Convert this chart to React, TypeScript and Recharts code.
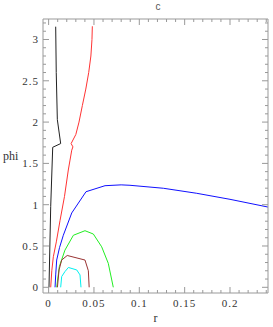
import { LineChart, Line, XAxis, YAxis } from 'recharts';

// contour curves, r vs phi
const blackR = [0.0078, 0.0084, 0.0096, 0.0133, 0.0045, 0.0023, 0.0004];
const blackPhi = [3.155, 2.6, 2.03, 1.74, 1.695, 0.98, 0];

const redR = [0.0482, 0.0478, 0.0466, 0.0442, 0.041, 0.0372, 0.0335, 0.03, 0.0248, 0.0268, 0.0255, 0.0236, 0.0217, 0.0175, 0.0126, 0.0085, 0.0052, 0.0035, 0.0023];
const redPhi = [3.16, 3.0, 2.8, 2.6, 2.4, 2.2, 2.0, 1.85, 1.74, 1.7, 1.66, 1.54, 1.42, 1.1, 0.81, 0.55, 0.37, 0.2, 0];

const blueR = [0.0071, 0.0078, 0.0089, 0.012, 0.0162, 0.0255, 0.0412, 0.0622, 0.08, 0.0897, 0.1265, 0.1633, 0.2, 0.2416, 0.25];
const bluePhi = [0, 0.15, 0.33, 0.48, 0.63, 0.9, 1.157, 1.23, 1.24, 1.235, 1.199, 1.138, 1.065, 0.972, 0.95];

const greenR = [0.0089, 0.0118, 0.018, 0.0273, 0.0401, 0.0493, 0.0585, 0.0658, 0.0713];
const greenPhi = [0, 0.25, 0.45, 0.63, 0.685, 0.645, 0.49, 0.29, 0];

const brownR = [0.0097, 0.0115, 0.0144, 0.0205, 0.0401, 0.0438, 0.0447];
const brownPhi = [0, 0.21, 0.33, 0.385, 0.33, 0.2, 0];

const cyanR = [0.0133, 0.0144, 0.018, 0.0218, 0.031, 0.0346, 0.0357];
const cyanPhi = [0, 0.13, 0.19, 0.24, 0.21, 0.15, 0];

const xMajor = [0, 0.05, 0.1, 0.15, 0.2];
const yMajor = [0, 0.5, 1, 1.5, 2, 2.5, 3];
const xTicks = [0, 0.01, 0.02, 0.03, 0.04, 0.05, 0.06, 0.07, 0.08, 0.09, 0.1, 0.11, 0.12, 0.13, 0.14, 0.15, 0.16, 0.17, 0.18, 0.19, 0.2, 0.21, 0.22, 0.23, 0.24];
const yTicks = [0, 0.1, 0.2, 0.3, 0.4, 0.5, 0.6, 0.7, 0.8, 0.9, 1, 1.1, 1.2, 1.3, 1.4, 1.5, 1.6, 1.7, 1.8, 1.9, 2, 2.1, 2.2, 2.3, 2.4, 2.5, 2.6, 2.7, 2.8, 2.9, 3, 3.1, 3.2];

const series = [
  { name: 'black', color: '#222222', r: blackR, phi: blackPhi },
  { name: 'red', color: '#ff3333', r: redR, phi: redPhi },
  { name: 'blue', color: '#1010ff', r: blueR, phi: bluePhi },
  { name: 'green', color: '#22ee22', r: greenR, phi: greenPhi },
  { name: 'brown', color: '#993333', r: brownR, phi: brownPhi },
  { name: 'cyan', color: '#00f0f0', r: cyanR, phi: cyanPhi },
];

const frame = '#999999';
const labelColor = '#333333';
const serif = '"Liberation Serif", "DejaVu Serif", serif';

const isMajor = (list: number[], v: number) => list.some((m) => Math.abs(m - v) < 1e-6);

function BottomTick({ x, y, payload }: any) {
  const major = isMajor(xMajor, payload.value);
  return (
    <g>
      <line x1={x} y1={y} x2={x} y2={y - (major ? 6 : 3)} stroke={frame} />
      {major && (
        <text x={x} y={y + 14} textAnchor="middle" fontSize={11} letterSpacing={1} fontFamily={serif} fill={labelColor}>
          {payload.value}
        </text>
      )}
    </g>
  );
}

function TopTick({ x, y, payload }: any) {
  const major = isMajor(xMajor, payload.value);
  return <line x1={x} y1={y} x2={x} y2={y + (major ? 6 : 3)} stroke={frame} />;
}

function LeftTick({ x, y, payload }: any) {
  const major = isMajor(yMajor, payload.value);
  return (
    <g>
      <line x1={x} y1={y} x2={x + (major ? 6 : 3)} y2={y} stroke={frame} />
      {major && (
        <text x={x - 4} y={y + 4} textAnchor="end" fontSize={11} letterSpacing={1} fontFamily={serif} fill={labelColor}>
          {payload.value}
        </text>
      )}
    </g>
  );
}

function RightTick({ x, y, payload }: any) {
  const major = isMajor(yMajor, payload.value);
  return <line x1={x} y1={y} x2={x - (major ? 6 : 3)} y2={y} stroke={frame} />;
}

export default function App() {
  const xDomain = [-0.0062, 0.2419];
  const yDomain = [-0.069, 3.248];
  const anchor = cyanR.map((r, i) => ({ r, phi: cyanPhi[i] }));

  return (
    <div style={{ position: 'absolute', left: 0, top: 0, width: 273, height: 327, background: '#fff' }}>
      <div
        style={{
          position: 'absolute',
          left: 152,
          top: 1,
          width: 12,
          textAlign: 'center',
          fontSize: 10,
          fontFamily: 'Liberation Sans, Arial, sans-serif',
          color: '#555',
        }}
      >
        c
      </div>
      <LineChart width={273} height={327} margin={{ top: 18, right: 4, bottom: 0, left: 0 }}>
        <XAxis
          xAxisId="b"
          type="number"
          dataKey="r"
          domain={xDomain}
          allowDataOverflow
          ticks={xTicks}
          interval={0}
          height={34}
          tickSize={0}
          tickMargin={0}
          tick={BottomTick}
          tickLine={false}
          axisLine={{ stroke: frame }}
          label={{ value: 'r', position: 'insideBottom', offset: 5, fontSize: 12, fontFamily: serif, fill: labelColor }}
        />
        <XAxis
          xAxisId="t"
          orientation="top"
          type="number"
          dataKey="r"
          domain={xDomain}
          allowDataOverflow
          ticks={xTicks}
          interval={0}
          height={1}
          tickSize={0}
          tickMargin={0}
          tick={TopTick}
          tickLine={false}
          axisLine={{ stroke: frame }}
        />
        <YAxis
          yAxisId="l"
          type="number"
          dataKey="phi"
          domain={yDomain}
          allowDataOverflow
          ticks={yTicks}
          interval={0}
          width={43}
          tickSize={0}
          tickMargin={0}
          tick={LeftTick}
          tickLine={false}
          axisLine={{ stroke: frame }}
          label={{ value: 'phi', position: 'insideLeft', offset: 3, fontSize: 12, fontFamily: serif, fill: labelColor }}
        />
        <YAxis
          yAxisId="rt"
          orientation="right"
          type="number"
          dataKey="phi"
          domain={yDomain}
          allowDataOverflow
          ticks={yTicks}
          interval={0}
          width={1}
          tickSize={0}
          tickMargin={0}
          tick={RightTick}
          tickLine={false}
          axisLine={{ stroke: frame }}
        />
        {/* invisible series so the top and right frame axes get drawn */}
        <Line
          xAxisId="t"
          yAxisId="rt"
          data={anchor}
          dataKey="phi"
          stroke="none"
          dot={false}
          activeDot={false}
          isAnimationActive={false}
        />
        {series.map((s) => (
          <Line
            key={s.name}
            xAxisId="b"
            yAxisId="l"
            data={s.r.map((r, i) => ({ r, phi: s.phi[i] }))}
            dataKey="phi"
            type="linear"
            stroke={s.color}
            strokeWidth={1}
            dot={false}
            isAnimationActive={false}
          />
        ))}
      </LineChart>
    </div>
  );
}
